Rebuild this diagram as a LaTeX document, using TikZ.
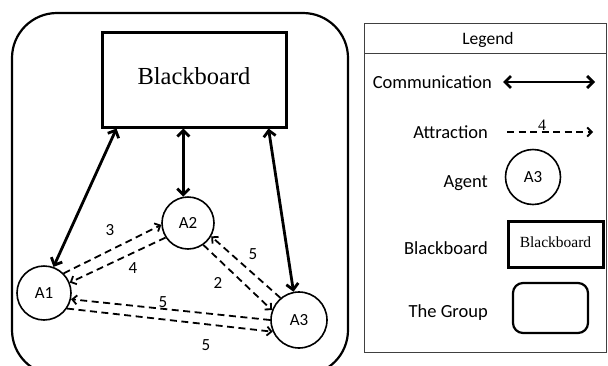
\documentclass[tikz,border=0pt]{standalone}
\usepackage{fontspec}
\setmainfont{Carlito}
\newfontfamily\bbfont{Liberation Serif}
\usetikzlibrary{arrows.meta}
\begin{document}
\begin{tikzpicture}[x=1pt,y=-1pt,
 agent/.style={draw,circle,line width=1.6pt,minimum size=54pt,inner sep=0pt,font=\fontsize{17}{17}\selectfont},
 comm/.style={line width=2.8pt,{Straight Barb[length=6pt,width=12pt]}-{Straight Barb[length=6pt,width=12pt]}},
 att/.style={line width=1.8pt,dash pattern=on 7pt off 4.5pt,-{Straight Barb[length=4.5pt,width=9pt]}},
 lbl/.style={font=\fontsize{17}{17}\selectfont,inner sep=0pt},
 leg/.style={font=\fontsize{18.5}{18.5}\selectfont,anchor=east,inner sep=0pt},
 bbox/.style={draw,line width=3pt,inner sep=0pt},
]
\useasboundingbox (0,0) rectangle (608,365);
\fill[white] (0,0) rectangle (608,365);
% group
\begin{scope}
\clip (0,0) rectangle (608,365);
\draw[line width=2.2pt,rounded corners=45pt] (12,13) rectangle (348,375);
\end{scope}
% blackboard
\node[bbox,minimum width=184pt,minimum height=95pt,font=\bbfont\fontsize{24.5}{24.5}\selectfont] (BB) at (194,79.5) {\raisebox{7pt}{Blackboard}};
% agents
\node[agent] (A1) at (44,293) {A1};
\node[agent,minimum size=52pt] (A2) at (188,223) {A2};
\node[agent,minimum size=56pt] (A3) at (299,320) {A3};
% communication
\draw[comm] ([xshift=16pt]BB.south west) -- (A1.70);
\draw[comm] (BB.south -| A2.100) -- (A2.100);
\draw[comm] ([xshift=-19pt]BB.south east) -- (A3.101);
% attraction
\draw[att] (A1.45) -- (A2.184);
\draw[att] (A2.213) -- (A1.22);
\draw[att] (A2.305) -- (A3.160);
\draw[att] (A3.130) -- (A2.330);
\draw[att] (A3.180) -- (A1.347);
\draw[att] (A1.326) -- (A3.204);
\node[lbl] (l3) at (110,230) {3};
\node[lbl] (l4) at (133,268) {4};
\node[lbl] (l2) at (218,283) {2};
\node[lbl] (l5a) at (253,254) {5};
\node[lbl] (l5b) at (163,302) {5};
\node[lbl] (l5c) at (206,345) {5};
% legend
\draw[line width=0.9pt,black!75] (364,23) rectangle (606.5,352);
\draw[line width=0.9pt,black!75] (364,53) -- (606.5,53);
\node[font=\fontsize{17.5}{17.5}\selectfont] (LG) at (488,40) {Legend};
\node[leg] (tc) at (492,82) {Communication};
\coordinate (c1) at (503,82);
\coordinate (c2) at (595,82);
\draw[comm] (c1) -- (c2);
\node[leg] (ta) at (488,132) {Attraction};
\coordinate (d1) at (507,132);
\coordinate (d2) at (593,132);
\draw[att] (d1) -- (d2);
\node[font=\bbfont\fontsize{16}{16}\selectfont,inner sep=0pt] (l4b) at (542,125) {4};
\node[leg] (tag) at (488,183) {Agent};
\node[agent,minimum size=55pt] (LA) at (533,177) {A3};
\node[leg] (tb) at (488,248) {Blackboard};
\node[bbox,minimum width=95pt,minimum height=46pt,font=\bbfont\fontsize{15.5}{15.5}\selectfont] (LB) at (555.5,244) {\raisebox{3pt}{Blackboard}};
\node[leg] (tg) at (488,313) {The Group};
\node[draw,line width=2.2pt,rounded corners=10pt,minimum width=75pt,minimum height=50pt] (LGR) at (550.5,308) {};
\end{tikzpicture}
\end{document}
